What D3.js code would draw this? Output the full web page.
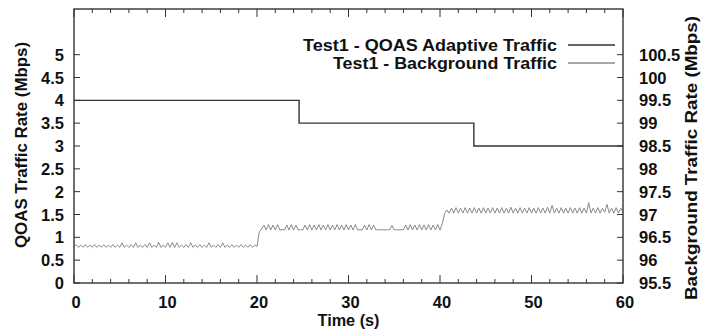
<!DOCTYPE html>
<html><head><meta charset="utf-8">
<script src="https://cdn.jsdelivr.net/npm/d3@7"></script>
<style>body{margin:0;background:#fff}svg{display:block}text{font-family:"Liberation Sans",Arial,sans-serif;font-weight:bold;fill:#111}</style>
</head><body><svg id="c" width="708" height="331"></svg>
<script>
// QOAS adaptive traffic: step changes (time s, Mbps)
const qoasTimes = [0, 24.6, 24.6, 43.7, 43.7, 60];
const qoasValues = [4, 4, 3.5, 3.5, 3, 3];
// Background traffic (plotted on left scale; right scale = left + 95.5), sampled every 0.25 s
const bgSeg1 = [0.8,0.84,0.78,0.83,0.78,0.84,0.78,0.83,0.78,0.84,0.78,0.83,0.78,0.84,0.78,0.83,0.78,0.84,0.78,0.83,
0.78,0.88,0.78,0.83,0.78,0.84,0.78,0.88,0.78,0.83,0.78,0.84,0.78,0.88,0.78,0.83,0.78,0.89,0.78,0.83,
0.78,0.88,0.78,0.89,0.78,0.88,0.78,0.83,0.78,0.84,0.78,0.88,0.78,0.83,0.78,0.84,0.78,0.83,0.78,0.88,
0.78,0.83,0.78,0.84,0.78,0.88,0.78,0.83,0.78,0.84,0.78,0.83,0.78,0.84,0.78,0.83,0.78,0.84,0.78,0.83];
const bgSeg2 = [0.8,1.12,1.18,1.27,1.16,1.28,1.16,1.27,1.16,1.28,1.16,1.17,1.16,1.27,1.16,1.28,1.16,1.27,1.16,1.17,
1.16,1.27,1.16,1.28,1.16,1.27,1.16,1.28,1.16,1.27,1.16,1.28,1.16,1.27,1.16,1.28,1.16,1.27,1.16,1.28,
1.16,1.27,1.16,1.28,1.16,1.17,1.16,1.27,1.16,1.28,1.16,1.27,1.16,1.17,1.16,1.17,1.16,1.17,1.16,1.26,
1.16,1.17,1.16,1.17,1.16,1.27,1.16,1.28,1.16,1.27,1.16,1.28,1.16,1.27,1.16,1.28,1.16,1.27,1.16,1.28];
const bgSeg3 = [1.16,1.3,1.52,1.6,1.53,1.64,1.53,1.65,1.53,1.64,1.53,1.65,1.53,1.64,1.53,1.65,1.53,1.64,1.53,1.65,
1.53,1.64,1.53,1.65,1.53,1.64,1.53,1.65,1.53,1.64,1.53,1.66,1.53,1.64,1.53,1.65,1.53,1.64,1.53,1.65,
1.53,1.64,1.53,1.65,1.53,1.64,1.53,1.66,1.53,1.7,1.53,1.64,1.53,1.65,1.53,1.64,1.53,1.65,1.53,1.64,
1.53,1.65,1.53,1.64,1.53,1.76,1.53,1.64,1.53,1.65,1.53,1.64,1.55,1.72,1.53,1.64,1.53,1.65,1.53,1.64,1.55];
const bgValues = bgSeg1.concat(bgSeg2, bgSeg3);
const bgTimes = bgValues.map((_, i) => i * 0.25);
const xTicks = [0, 10, 20, 30, 40, 50, 60];
const leftTicks = [0,0.5,1,1.5,2,2.5,3,3.5,4,4.5,5];
const rightTicks = [95.5,96,96.5,97,97.5,98,98.5,99,99.5,100,100.5];
const legendLabels = ["Test1 - QOAS Adaptive Traffic", "Test1 - Background Traffic"];

const L = 74, R = 623, T = 9, B = 283;
const svg = d3.select("#c");
const x = d3.scaleLinear().domain([0, 60]).range([L, R]);
const yL = d3.scaleLinear().domain([0, 6]).range([B, T]);
const yR = d3.scaleLinear().domain([95.5, 101.5]).range([B, T]);

const fs = 16.5;
const g = svg.append("g").attr("stroke", "#333").attr("stroke-width", 1);
d3.range(0, 61, 2).forEach(v => {
  const len = v % 10 === 0 ? 8 : 4;
  g.append("line").attr("x1", x(v)).attr("x2", x(v)).attr("y1", B).attr("y2", B - len);
  g.append("line").attr("x1", x(v)).attr("x2", x(v)).attr("y1", T).attr("y2", T + len);
});
leftTicks.forEach(v => {
  g.append("line").attr("x1", L).attr("x2", L + 6).attr("y1", yL(v)).attr("y2", yL(v));
});
rightTicks.forEach(v => {
  g.append("line").attr("x1", R).attr("x2", R - 6).attr("y1", yR(v)).attr("y2", yR(v));
});

const line = d3.line();
svg.append("path")
  .attr("d", line(bgTimes.map((t, i) => [x(t), yL(bgValues[i])])))
  .attr("fill", "none").attr("stroke", "#8a8a8a").attr("stroke-width", 1);
svg.append("path")
  .attr("d", line(qoasTimes.map((t, i) => [x(t), yL(qoasValues[i])])))
  .attr("fill", "none").attr("stroke", "#333").attr("stroke-width", 1.4);

svg.append("rect").attr("x", L).attr("y", T).attr("width", R - L).attr("height", B - T)
  .attr("fill", "none").attr("stroke", "#333").attr("stroke-width", 1.4);

xTicks.forEach(v => svg.append("text").attr("x", x(v) + 2).attr("y", 308)
  .attr("text-anchor", "middle").attr("font-size", fs).text(v));
leftTicks.forEach(v => svg.append("text").attr("x", 64).attr("y", yL(v) + 6)
  .attr("text-anchor", "end").attr("font-size", fs).text(v));
rightTicks.forEach(v => svg.append("text").attr("x", 639).attr("y", yR(v) + 6)
  .attr("text-anchor", "start").attr("font-size", fs).text(v));
svg.append("text").attr("x", (L + R) / 2).attr("y", 326).attr("text-anchor", "middle")
  .attr("font-size", 16).attr("textLength", 62).attr("lengthAdjust", "spacingAndGlyphs").text("Time (s)");
svg.append("text").attr("transform", "translate(27,145) rotate(-90)")
  .attr("text-anchor", "middle").attr("font-size", 16)
  .attr("textLength", 206).attr("lengthAdjust", "spacingAndGlyphs").text("QOAS Traffic Rate (Mbps)");
svg.append("text").attr("transform", "translate(697,158) rotate(-90)")
  .attr("text-anchor", "middle").attr("font-size", 16)
  .attr("textLength", 284).attr("lengthAdjust", "spacingAndGlyphs").text("Background Traffic Rate (Mbps)");

const legY = [45, 63];
const legLen = [254, 224];
const legCol = ["#333", "#8a8a8a"];
legendLabels.forEach((s, i) => {
  svg.append("text").attr("x", 557).attr("y", legY[i] + 6).attr("text-anchor", "end")
    .attr("font-size", 16).attr("textLength", legLen[i]).attr("lengthAdjust", "spacingAndGlyphs").text(s);
  svg.append("line").attr("x1", 568).attr("x2", 615).attr("y1", legY[i]).attr("y2", legY[i])
    .attr("stroke", legCol[i]).attr("stroke-width", 1.4);
});
</script></body></html>
